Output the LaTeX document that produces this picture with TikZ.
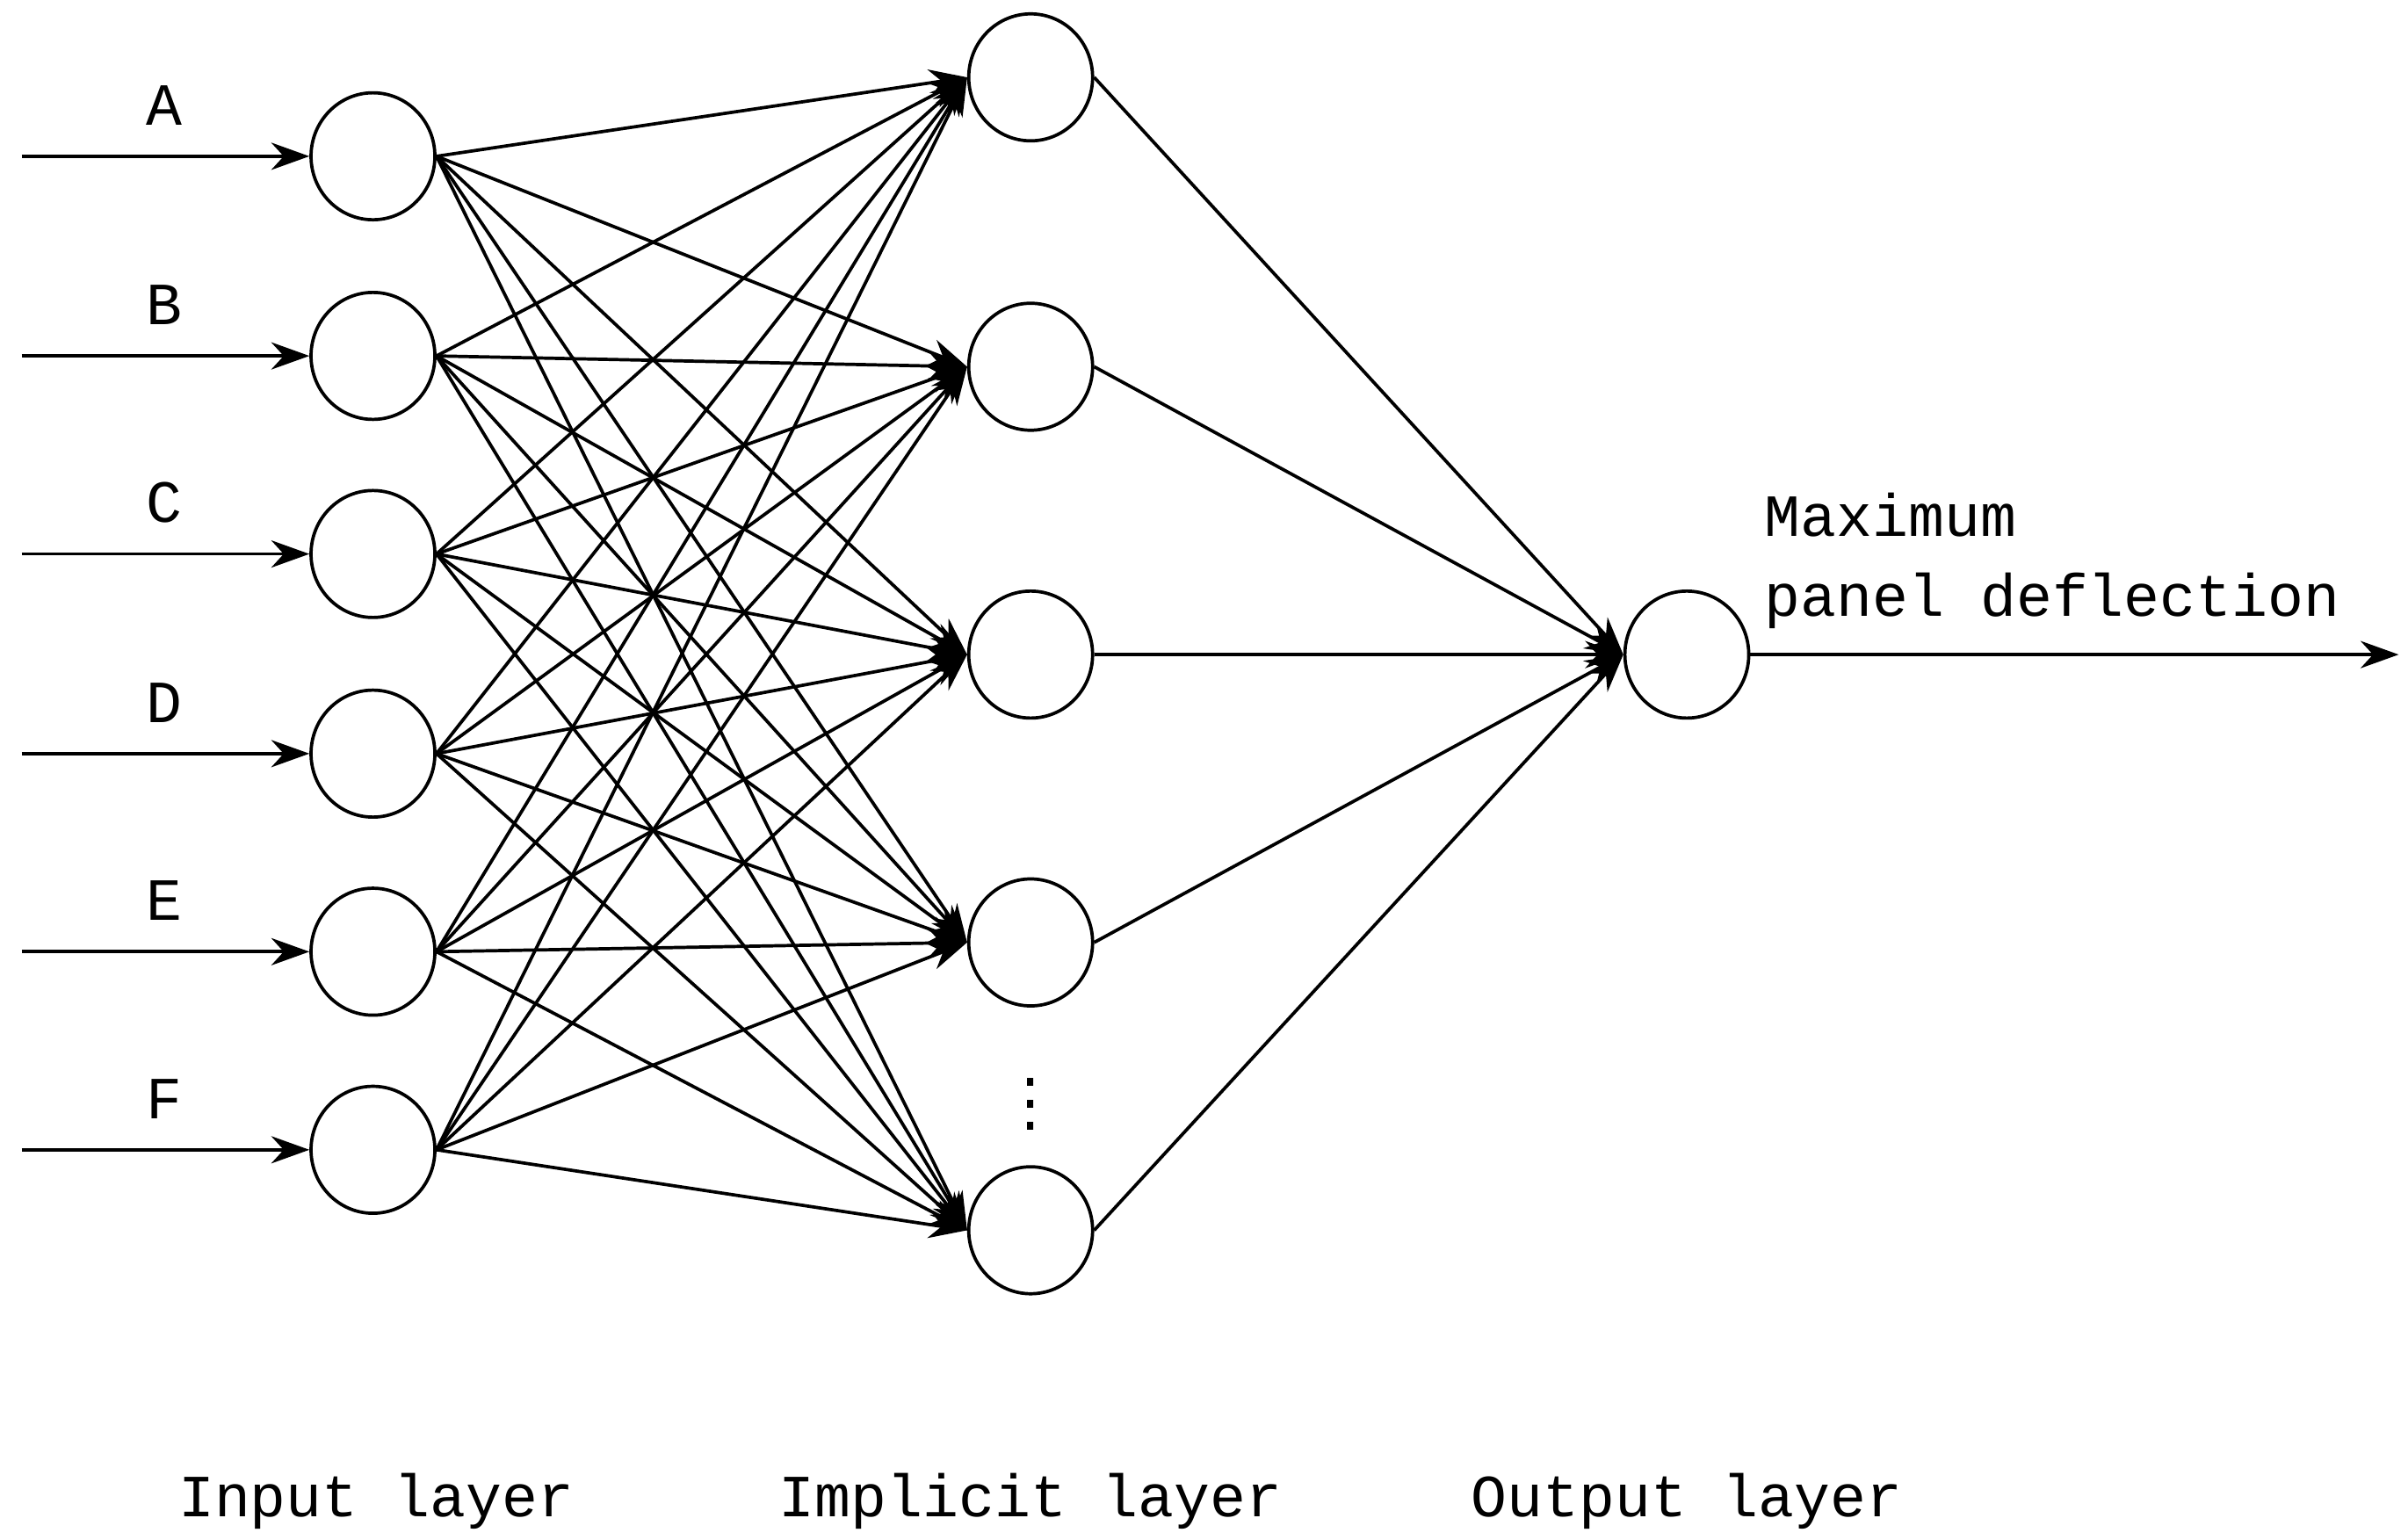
\documentclass[tikz,border=0pt]{standalone}
\usepackage{fontspec}
\setmainfont{Liberation Mono}
\usetikzlibrary{arrows.meta,shapes.geometric}
\begin{document}
\begin{tikzpicture}[x=0.01cm,y=-0.01cm,
  neu/.style={draw,line width=0.6pt,ellipse,minimum width=0.8cm,minimum height=0.82cm,inner sep=0pt,fill=white},
  con/.style={line width=0.6pt,-{Stealth[length=7pt,width=5pt]}},
  lab/.style={font=\fontsize{11}{13}\selectfont}]
\useasboundingbox (0,0) rectangle (1556,995);
\foreach \i/\y/\t in {1/101/A,2/230/B,3/358/C,4/487/D,5/615/E,6/743/F}{
  \node[neu] (i\i) at (241,\y) {};
  \coordinate (s\i) at (14,\y);
  \draw[con] (s\i) -- (i\i);
  \node[lab] (l\i) at (106,\y-33) {\t};
}
\foreach \j/\y in {1/50,2/237,3/423,4/609,5/795}{
  \node[neu] (h\j) at (666,\y) {};
}
\node[neu] (o) at (1090,423) {};
\foreach \i in {1,...,6}{\foreach \j in {1,...,5}{\draw[con] (i\i.east) -- (h\j.west);}}
\foreach \j in {1,...,5}{\draw[con] (h\j.east) -- (o.west);}
\coordinate (e) at (1550,423);
\draw[con] (o) -- (e);
\node[lab,anchor=west] (m1) at (1128,333) {Maximum};
\node[lab,anchor=west] (m2) at (1128,388) {panel deflection};
\node[inner sep=0pt] (dots) at (666,703) {$\vdots$};
\node[lab] (b1) at (243,970) {Input layer};
\node[lab] (b2) at (666,970) {Implicit layer};
\node[lab] (b3) at (1090,970) {Output layer};
\end{tikzpicture}
\end{document}
